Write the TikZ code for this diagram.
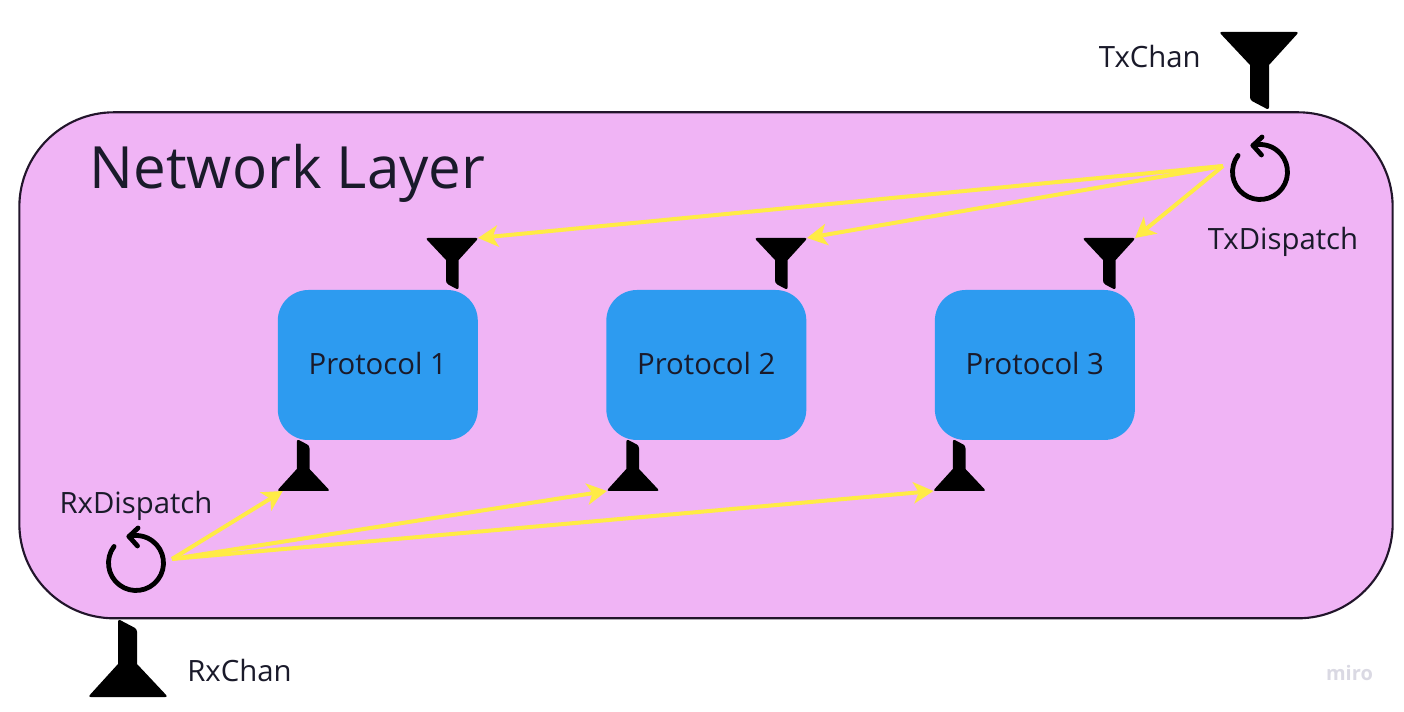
\documentclass[tikz,border=0pt]{standalone}
\usepackage{fontspec}
\setmainfont{Open Sans}
\usetikzlibrary{arrows.meta}
\usetikzlibrary{positioning}
\definecolor{layerfill}{HTML}{F0B4F5}
\definecolor{layerline}{HTML}{22152B}
\definecolor{protofill}{HTML}{2D9BF0}
\definecolor{wire}{HTML}{FFEB45}
\definecolor{inktext}{HTML}{1A1A2A}
\definecolor{brand}{HTML}{DAD9E3}
\tikzset{
	layer/.style={draw=layerline, line width=1.6pt, fill=layerfill, rounded corners=71pt, minimum width=1030pt, minimum height=379.5pt, inner sep=0pt},
	proto/.style={fill=protofill, rounded corners=23pt, minimum width=150pt, minimum height=112.5pt, inner sep=0pt, text=inktext, text depth=3pt, font=\fontsize{22}{26}\selectfont},
	lbl/.style={text=inktext, inner sep=0pt, font=\fontsize{22}{26}\selectfont},
	wirearrow/.style={draw=wire, line width=3pt, -{Stealth[length=15pt,width=16pt,inset=4pt]}},
	pics/funnel/.style={code={
		\fill[black, rounded corners=2pt] (-40,0) -- (40,0) [sharp corners] -- (10,-33) [rounded corners=2pt] -- (10,-78) -- (-9,-68) [sharp corners] -- (-9,-33) [rounded corners=2pt] -- cycle;
		\coordinate (-lip) at (39,0);
	}},
	pics/dispatch/.style={code={
		\draw[black, line width=3.6pt, line cap=round, line join=round] (143:27.5) arc[start angle=143, end angle=465, radius=27.5];
		\draw[black, line width=3.6pt, line cap=round, line join=round] (2,35) -- (-7,26.5) -- (1.5,17);
	}}
}
\begin{document}
\begin{tikzpicture}[x=0.75pt, y=0.75pt]
\useasboundingbox (0,0) rectangle (1404,711);
\node[layer] (netlayer) at (706,345.7) {};
\node[text=inktext, inner sep=0pt, font=\fontsize{43.7}{52}\selectfont] (nettitle) at (287.5,538) {Network Layer};
% protocols
\node[proto] (p1) at (377.8,346) {Protocol 1};
\node[proto, right=96pt of p1] (p2) {Protocol 2};
\node[proto, right=96pt of p2] (p3) {Protocol 3};
% channels
\pic (txchan) at (1259,679) {funnel};
\pic[rotate=180] (rxchan) at (128,14) {funnel};
\node[lbl, anchor=east] (txlabel) at (1201,654) {TxChan};
\node[lbl, anchor=west] (rxlabel) at (187,41) {RxChan};
% protocol funnels
\pic[scale=0.667] (tx1) at (452,473) {funnel};
\pic[scale=0.667] (tx2) at (781,473) {funnel};
\pic[scale=0.667] (tx3) at (1109,473) {funnel};
\pic[scale=0.667, rotate=180] (rx1) at (303.5,220) {funnel};
\pic[scale=0.667, rotate=180] (rx2) at (633,220) {funnel};
\pic[scale=0.667, rotate=180] (rx3) at (959.5,220) {funnel};
% dispatchers
\pic (txdisp) at (1260,539) {dispatch};
\pic (rxdisp) at (136,148) {dispatch};
\node[lbl, anchor=center] (txdlabel) at (1283,469.5) {TxDispatch};
\node[lbl, anchor=center] (rxdlabel) at (136,205.5) {RxDispatch};
\coordinate (txout) at (1223,545);
\coordinate (rxout) at (172,152);
\draw[wirearrow] (txout) -- (tx1-lip);
\draw[wirearrow] (txout) -- (tx2-lip);
\draw[wirearrow] (txout) -- (tx3-lip);
\draw[wirearrow] (rxout) -- ([xshift=4pt]rx1-lip);
\draw[wirearrow] (rxout) -- (rx2-lip);
\draw[wirearrow] (rxout) -- (rx3-lip);
\node[text=brand, inner sep=0pt, font=\fontsize{15}{17}\selectfont\bfseries] (brandmark) at (1349.5,38) {miro};
\end{tikzpicture}
\end{document}
